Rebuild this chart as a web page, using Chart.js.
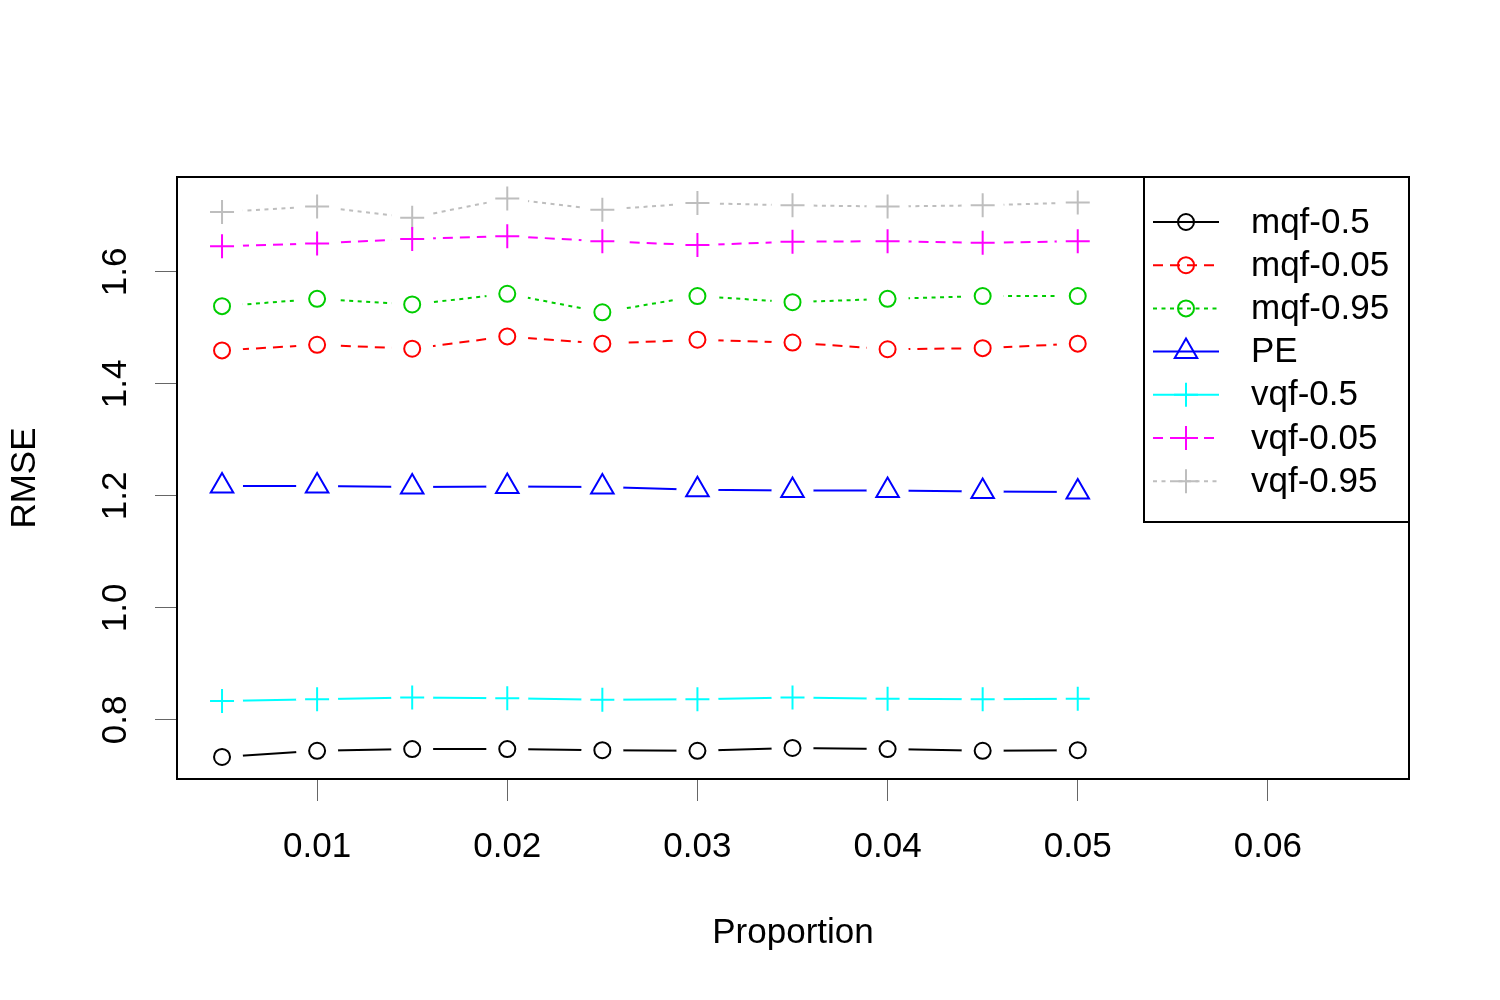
<!DOCTYPE html>
<html>
<head>
<meta charset="utf-8">
<script src="https://cdn.jsdelivr.net/npm/chart.js@4.4.1/dist/chart.umd.min.js"></script>
<style>
  html, body { margin: 0; padding: 0; background: #fff; }
  #wrap { width: 1500px; height: 1000px; }
</style>
</head>
<body>
<div id="wrap"><canvas id="chartCanvas" width="1500" height="1000"></canvas></div>
<script>
// values
var proportion = [0.005, 0.01, 0.015, 0.02, 0.025, 0.03, 0.035, 0.04, 0.045, 0.05];

var mqf05  = [0.734, 0.745, 0.748, 0.748, 0.746, 0.745, 0.750, 0.748, 0.745, 0.746];
var mqf005 = [1.460, 1.470, 1.463, 1.485, 1.472, 1.479, 1.474, 1.462, 1.464, 1.472];
var mqf095 = [1.539, 1.552, 1.542, 1.561, 1.528, 1.557, 1.546, 1.552, 1.557, 1.557];
var pe     = [1.218, 1.218, 1.216, 1.217, 1.216, 1.211, 1.210, 1.210, 1.208, 1.207];
var vqf05  = [0.834, 0.837, 0.840, 0.839, 0.836, 0.837, 0.840, 0.838, 0.837, 0.838];
var vqf005 = [1.646, 1.651, 1.659, 1.664, 1.655, 1.648, 1.654, 1.655, 1.652, 1.655];
var vqf095 = [1.707, 1.717, 1.697, 1.731, 1.711, 1.723, 1.719, 1.717, 1.719, 1.724];

var seriesNames = ["mqf-0.5", "mqf-0.05", "mqf-0.95", "PE", "vqf-0.5", "vqf-0.05", "vqf-0.95"];
var seriesValues = [mqf05, mqf005, mqf095, pe, vqf05, vqf005, vqf095];

var xTicks = [0.01, 0.02, 0.03, 0.04, 0.05, 0.06];
var xTickLabels = ["0.01", "0.02", "0.03", "0.04", "0.05", "0.06"];
var yTicks = [0.8, 1.0, 1.2, 1.4, 1.6];
var yTickLabels = ["0.8", "1.0", "1.2", "1.4", "1.6"];

// styles (R-like)
var colors = ["#000000", "#FF0000", "#00CD00", "#0000FF", "#00FFFF", "#FF00FF", "#BEBEBE"];
var dashes = [[], [10, 7], [4, 4.5], [], [], [10, 7], [4, 4.5]];
var shapes = ["circle", "circle", "circle", "triangle", "cross", "cross", "cross"];
var radii = [8, 8, 8, 13, 12, 12, 12];

var FONT = "'Liberation Sans', Arial, Helvetica, sans-serif";

function points(values) {
    var pts = [];
    for (var i = 0; i < proportion.length; i++) {
        pts.push({ x: proportion[i], y: values[i] });
    }
    return pts;
}

var datasets = [];
for (var s = 0; s < seriesNames.length; s++) {
    // the line
    datasets.push({
        label: seriesNames[s],
        data: points(seriesValues[s]),
        showLine: true,
        borderColor: colors[s],
        borderWidth: 2,
        borderDash: dashes[s],
        pointRadius: 0,
        tension: 0,
        fill: false,
        order: 3
    });
    // white gap round each point (type = "b")
    datasets.push({
        label: seriesNames[s] + "_gap",
        data: points(seriesValues[s]),
        showLine: false,
        pointRadius: 21,
        pointStyle: "circle",
        pointBackgroundColor: "#ffffff",
        pointBorderWidth: 0,
        pointBorderColor: "#ffffff",
        order: 2
    });
    // the markers
    datasets.push({
        label: seriesNames[s] + "_pts",
        data: points(seriesValues[s]),
        showLine: false,
        pointStyle: shapes[s],
        pointRadius: radii[s],
        pointBorderColor: colors[s],
        pointBackgroundColor: "rgba(0,0,0,0)",
        pointBorderWidth: 2,
        order: 1
    });
}

var boxAndLegend = {
    id: "boxAndLegend",
    afterDraw: function (chart) {
        var ctx = chart.ctx;
        var a = chart.chartArea;
        ctx.save();
        ctx.strokeStyle = "#000";
        ctx.lineWidth = 2;
        ctx.setLineDash([]);
        ctx.strokeRect(a.left, a.top, a.right - a.left, a.bottom - a.top);

        // legend box in the top right corner
        var w = 265, h = 345;
        var lx = a.right - w, ly = a.top;
        ctx.fillStyle = "#fff";
        ctx.fillRect(lx, ly, w, h);
        ctx.strokeRect(lx, ly, w, h);

        ctx.font = "35px " + FONT;
        ctx.textBaseline = "middle";
        ctx.textAlign = "left";
        for (var i = 0; i < seriesNames.length; i++) {
            var y = ly + 45 + i * 43.2;
            ctx.strokeStyle = colors[i];
            ctx.lineWidth = 2;
            ctx.setLineDash(dashes[i]);
            ctx.beginPath();
            ctx.moveTo(lx + 9, y);
            ctx.lineTo(lx + 75, y);
            ctx.stroke();
            ctx.setLineDash([]);
            ctx.fillStyle = "rgba(0,0,0,0)";
            Chart.helpers.drawPoint(ctx, {
                pointStyle: shapes[i],
                radius: radii[i],
                rotation: 0,
                borderWidth: 2
            }, lx + 42, y);
            ctx.fillStyle = "#000";
            ctx.fillText(seriesNames[i], lx + 107, y + 1);
        }
        ctx.restore();
    }
};

var ctx = document.getElementById("chartCanvas").getContext("2d");
new Chart(ctx, {
    type: "scatter",
    data: { datasets: datasets },
    plugins: [boxAndLegend],
    options: {
        responsive: false,
        animation: false,
        devicePixelRatio: 1,
        layout: { padding: { left: 0, top: 177, right: 91, bottom: 0 } },
        plugins: {
            legend: { display: false },
            tooltip: { enabled: false }
        },
        scales: {
            x: {
                type: "linear",
                min: 0.002632,
                max: 0.06742,
                afterBuildTicks: function (scale) {
                    scale.ticks = xTicks.map(function (v) { return { value: v }; });
                },
                afterFit: function (scale) { scale.height = 221; },
                ticks: {
                    color: "#000",
                    font: { family: FONT, size: 35 },
                    padding: 25,
                    maxRotation: 0,
                    autoSkip: false,
                    callback: function (value, index) { return xTickLabels[index]; }
                },
                grid: {
                    drawOnChartArea: false,
                    drawTicks: true,
                    tickLength: 22,
                    color: "#666",
                    lineWidth: 1
                },
                border: { display: false },
                title: {
                    display: true,
                    text: "Proportion",
                    color: "#000",
                    font: { family: FONT, size: 35 },
                    padding: { top: 0, bottom: 46 }
                }
            },
            y: {
                type: "linear",
                min: 0.6946,
                max: 1.7696,
                afterBuildTicks: function (scale) {
                    scale.ticks = yTicks.map(function (v) { return { value: v }; });
                },
                afterFit: function (scale) { scale.width = 177; },
                ticks: {
                    color: "#000",
                    font: { family: FONT, size: 35 },
                    padding: 14,
                    minRotation: 90,
                    maxRotation: 90,
                    crossAlign: "center",
                    autoSkip: false,
                    callback: function (value, index) { return yTickLabels[index]; }
                },
                grid: {
                    drawOnChartArea: false,
                    drawTicks: true,
                    tickLength: 22,
                    color: "#666",
                    lineWidth: 1
                },
                border: { display: false },
                title: {
                    display: true,
                    text: "RMSE",
                    color: "#000",
                    font: { family: FONT, size: 35 },
                    padding: { top: 4, bottom: 0 }
                }
            }
        }
    }
});
</script>
</body>
</html>
